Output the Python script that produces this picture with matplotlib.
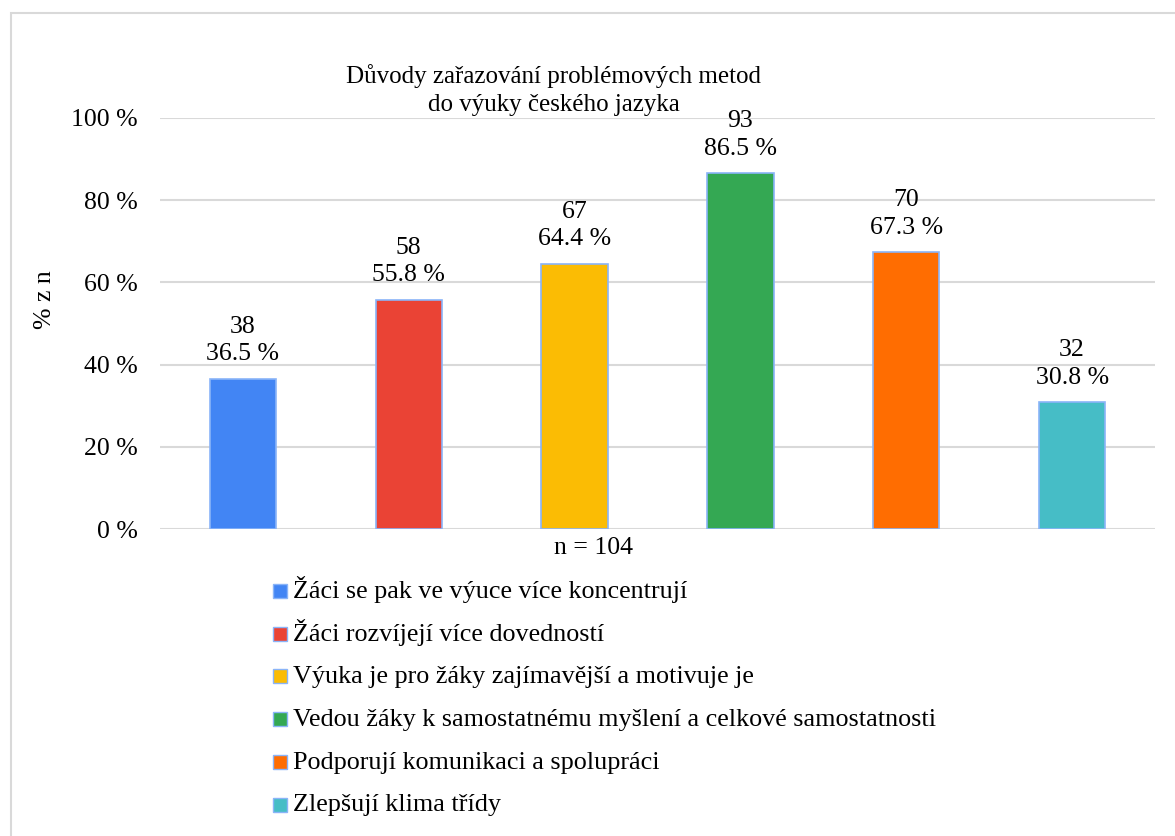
import matplotlib.pyplot as plt
from matplotlib.patches import Rectangle

# data
categories = [
    "Žáci se pak ve výuce více koncentrují",
    "Žáci rozvíjejí více dovedností",
    "Výuka je pro žáky zajímavější a motivuje je",
    "Vedou žáky k samostatnému myšlení a celkové samostatnosti",
    "Podporují komunikaci a spolupráci",
    "Zlepšují klima třídy",
]
counts = [38, 58, 67, 93, 70, 32]
percents = [36.5, 55.8, 64.4, 86.5, 67.3, 30.8]
colors = ["#4285F4", "#EA4335", "#FBBC04", "#34A853", "#FF6D01", "#46BDC6"]
yticks = [0, 20, 40, 60, 80, 100]

plt.rcParams['font.family'] = ['Liberation Serif', 'DejaVu Serif']
fs = 18.5
edge = "#8AB4F8"

fig = plt.figure(figsize=(11.75, 8.36), dpi=100)
W, H = 1175, 836
ax = fig.add_axes([160 / W, 1 - 529 / H, (1155 - 160) / W, (529 - 118) / H])

x = list(range(len(categories)))
bars = ax.bar(x, percents, width=0.4, color=colors, edgecolor=edge, linewidth=1.2, zorder=3)

for b, c, p in zip(bars, counts, percents):
    ax.annotate(f"{c}\n{p:.1f} %", (b.get_x() + b.get_width() / 2, b.get_height()),
                xytext=(0, 10), textcoords="offset points", ha="center", va="bottom",
                fontsize=fs, linespacing=1.3)

ax.set_xlim(-0.5, len(categories) - 0.5)
ax.set_ylim(0, 100)
ax.set_yticks(yticks)
ax.set_yticklabels([f"{t} %" for t in yticks], fontsize=fs)
ax.set_xticks([])
ax.tick_params(axis="y", length=0, pad=16)
ax.grid(axis="y", color="#d9d9d9", linewidth=1.5, zorder=0)
for s in ax.spines.values():
    s.set_visible(False)

fig.text(45 / W, 1 - 300 / H, "% z n", rotation=90, ha="center", va="center", fontsize=fs)
fig.text(554 / W, 1 - 90 / H, "Důvody zařazování problémových metod\ndo výuky českého jazyka",
         ha="center", va="center", fontsize=18, linespacing=1.35)
fig.text(594 / W, 1 - 548 / H, "n = 104", ha="center", va="center", fontsize=fs)

# legend below the chart, one row per category
for i, (c, lab) in enumerate(zip(colors, categories)):
    base = 598 + i * 42.7
    fig.patches.append(Rectangle((273 / W, 1 - base / H), 14 / W, 14 / H,
                                 transform=fig.transFigure, facecolor=c, edgecolor=edge, linewidth=1))
    fig.text(293 / W, 1 - base / H, lab, ha="left", va="baseline", fontsize=18.8)

# outer border
fig.patches.append(Rectangle((11 / W, -0.1), 1.2, 1 - 13 / H + 0.1, transform=fig.transFigure,
                             fill=False, edgecolor="#d9d9d9", linewidth=1.5))

fig.savefig("out.png", dpi=100)
